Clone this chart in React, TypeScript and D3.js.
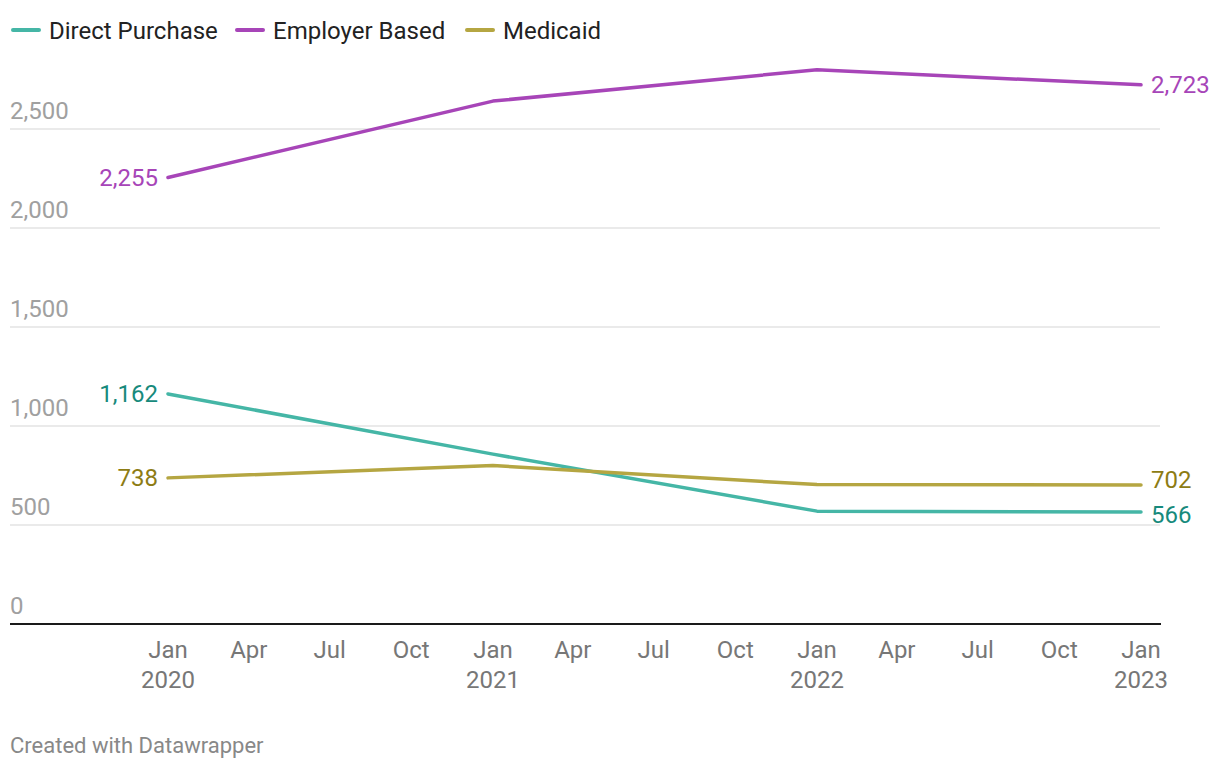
import * as d3 from "d3";

const YEARS = ["2020-01-01", "2021-01-01", "2022-01-01", "2023-01-01"];
const DIRECT = [1162, 858, 570, 566];
const EMPLOYER = [2255, 2641, 2799, 2723];
const MEDICAID = [738, 800, 704, 702];
const Y_TICKS = [0, 500, 1000, 1500, 2000, 2500];

const SERIES = [
  { name: "Direct Purchase", values: DIRECT, color: "#45b6a6", labelColor: "#178a7c", endShift: 3 },
  { name: "Employer Based", values: EMPLOYER, color: "#a745b8", labelColor: "#a745b8", endShift: 0 },
  { name: "Medicaid", values: MEDICAID, color: "#b5a642", labelColor: "#8d7c14", endShift: -5 },
];

const W = 1220;
const H = 770;
const FONT = "Roboto, 'Noto Sans', sans-serif";

export default function App() {
  const parse = d3.timeParse("%Y-%m-%d");
  const dates = YEARS.map((d) => parse(d)!);

  const x = d3.scaleTime().domain([dates[0], dates[dates.length - 1]]).range([168, 1141]);
  const y = d3.scaleLinear().domain([0, 2500]).range([624, 129]);

  const line = d3
    .line<number>()
    .x((_, i) => x(dates[i]))
    .y((d) => y(d));

  const monthTicks = d3.timeMonth.every(3)!.range(dates[0], d3.timeDay.offset(dates[3], 1));
  const fmt = d3.format(",");

  const legendX = [12, 236, 466];

  return (
    <svg
      width={W}
      height={H}
      style={{ position: "absolute", left: 0, top: 0, background: "#fff" }}
      fontFamily={FONT}
    >
      {/* legend */}
      {SERIES.map((s, i) => (
        <g key={s.name} transform={`translate(${legendX[i]},30)`}>
          <line x1={1} x2={27} y1={0} y2={0} stroke={s.color} strokeWidth={4} strokeLinecap="round" />
          <text x={37} y={8.5} fontSize={24} fill="#222">
            {s.name}
          </text>
        </g>
      ))}

      {/* grid + y labels */}
      {Y_TICKS.map((t) => (
        <g key={t}>
          {t > 0 && <line x1={10} x2={1160} y1={y(t)} y2={y(t)} stroke="#e3e3e3" strokeWidth={1.5} />}
          <text x={10} y={y(t) - 10} fontSize={24} fill="#a0a0a0">
            {fmt(t)}
          </text>
        </g>
      ))}
      <line x1={10} x2={1161} y1={y(0)} y2={y(0)} stroke="#1a1a1a" strokeWidth={2} />

      {/* x axis */}
      {monthTicks.map((d) => (
        <g key={d.toISOString()} transform={`translate(${x(d)},0)`}>
          <text y={658} textAnchor="middle" fontSize={24} fill="#777">
            {d3.timeFormat("%b")(d)}
          </text>
          {d.getMonth() === 0 && (
            <text y={688} textAnchor="middle" fontSize={24} fill="#777">
              {d3.timeFormat("%Y")(d)}
            </text>
          )}
        </g>
      ))}

      {/* lines */}
      {SERIES.map((s) => (
        <path
          key={s.name}
          d={line(s.values)!}
          fill="none"
          stroke={s.color}
          strokeWidth={3.5}
          strokeLinejoin="round"
          strokeLinecap="round"
        />
      ))}

      {/* value labels */}
      {SERIES.map((s) => (
        <g key={s.name + "-labels"} fontSize={24} fill={s.labelColor}>
          <text x={x(dates[0]) - 10} y={y(s.values[0])} dy="0.35em" textAnchor="end">
            {fmt(s.values[0])}
          </text>
          <text x={x(dates[3]) + 10} y={y(s.values[3]) + s.endShift} dy="0.35em">
            {fmt(s.values[3])}
          </text>
        </g>
      ))}

      <text x={10} y={753} fontSize={22} fill="#888">
        Created with Datawrapper
      </text>
    </svg>
  );
}
